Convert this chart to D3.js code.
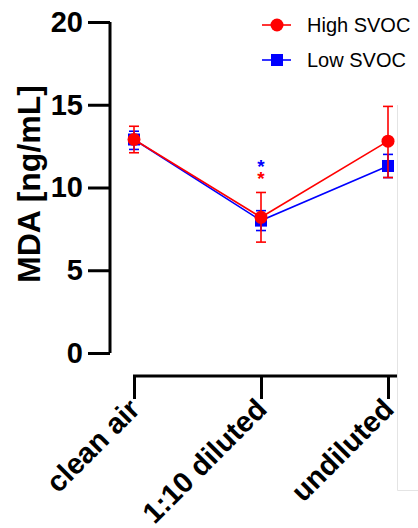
<!DOCTYPE html>
<html>
<head>
<meta charset="utf-8">
<script src="https://cdn.jsdelivr.net/npm/d3@7"></script>
<style>
  html, body { margin: 0; padding: 0; background: #fff; }
  svg { display: block; font-family: "Liberation Sans", Arial, sans-serif; }
</style>
</head>
<body>
<svg id="chart" width="418" height="528"></svg>
<script>
// Exposure groups along the x axis
const categories = ["clean air", "1:10 diluted", "undiluted"];

// MDA means with lower / upper error limits (ng/mL)
const highMean = [12.9, 8.2, 12.8];
const highLow  = [12.1, 6.7, 10.6];
const highHigh = [13.7, 9.7, 14.9];

const lowMean  = [12.9, 8.0, 11.3];
const lowLow   = [12.3, 7.4, 10.6];
const lowHigh  = [13.4, 8.6, 12.0];

const yTicks = [0, 5, 10, 15, 20];
const seriesNames = ["High SVOC", "Low SVOC"];
const seriesColors = ["#ff0000", "#0000ff"];
// Significance marks above the 1:10 diluted group (top to bottom)
const sigCategory = "1:10 diluted";
const sigSeries = [1, 0];

const svg = d3.select("#chart");
const FONT = "Liberation Sans, Arial, sans-serif";

const y = d3.scaleLinear().domain([0, 20]).range([353, 22]);
const x = d3.scalePoint().domain(categories).range([134, 388]);

// Y axis
const yAxis = svg.append("g").attr("transform", "translate(110,0)")
  .call(d3.axisLeft(y).tickValues(yTicks).tickSize(22).tickPadding(5));
yAxis.select(".domain").attr("stroke", "#000").attr("stroke-width", 3)
  .attr("d", `M0,${y(20)}V${y(0)}`);
yAxis.selectAll(".tick line").attr("stroke", "#000").attr("stroke-width", 3);
yAxis.selectAll(".tick text").attr("font-size", 29).attr("font-weight", "bold")
  .attr("fill", "#000").attr("font-family", FONT);

// Y axis title
svg.append("text")
  .attr("transform", "translate(40,184) rotate(-90)")
  .attr("text-anchor", "middle")
  .attr("font-size", 32).attr("font-weight", "bold")
  .attr("textLength", 198).attr("lengthAdjust", "spacingAndGlyphs")
  .text("MDA [ng/mL]");

// X axis
const xAxis = svg.append("g").attr("transform", "translate(0,376)")
  .call(d3.axisBottom(x).tickSize(23));
xAxis.select(".domain").attr("stroke", "#000").attr("stroke-width", 3)
  .attr("d", "M133,0H397");
xAxis.selectAll(".tick line").attr("stroke", "#000").attr("stroke-width", 3);
xAxis.selectAll(".tick text")
  .attr("font-size", 29).attr("font-weight", "bold").attr("fill", "#000")
  .attr("font-family", FONT)
  .attr("text-anchor", "end")
  .attr("x", 0).attr("y", 0).attr("dy", 0)
  .attr("transform", "translate(7,35) rotate(-45)");

// Series (low first so high sits on top)
const series = [
  { mean: lowMean, lo: lowLow, hi: lowHigh, color: seriesColors[1], shape: "square" },
  { mean: highMean, lo: highLow, hi: highHigh, color: seriesColors[0], shape: "circle" }
];

const line = d3.line().x((d, i) => x(categories[i])).y(d => y(d));

series.forEach(s => {
  const g = svg.append("g");
  g.append("path").datum(s.mean).attr("d", line)
    .attr("fill", "none").attr("stroke", s.color).attr("stroke-width", 1.6);
  categories.forEach((c, i) => {
    const cx = x(c);
    g.append("line").attr("x1", cx).attr("x2", cx)
      .attr("y1", y(s.lo[i])).attr("y2", y(s.hi[i]))
      .attr("stroke", s.color).attr("stroke-width", 1.6);
    [s.lo[i], s.hi[i]].forEach(v => {
      g.append("line").attr("x1", cx - 5).attr("x2", cx + 5)
        .attr("y1", y(v)).attr("y2", y(v))
        .attr("stroke", s.color).attr("stroke-width", 1.6);
    });
    if (s.shape === "circle") {
      g.append("circle").attr("cx", cx).attr("cy", y(s.mean[i])).attr("r", 6.5)
        .attr("fill", s.color);
    } else {
      g.append("rect").attr("x", cx - 6).attr("y", y(s.mean[i]) - 6)
        .attr("width", 12).attr("height", 12).attr("fill", s.color);
    }
  });
});

// Significance asterisks, stacked
const sig = svg.append("text")
  .attr("text-anchor", "middle")
  .attr("font-size", 19).attr("font-weight", "bold");
sigSeries.forEach((si, k) => {
  sig.append("tspan")
    .attr("x", x(sigCategory)).attr("y", 173 + k * 12)
    .attr("fill", seriesColors[si])
    .text("*");
});

// Legend
const legend = svg.append("g").attr("transform", "translate(262,0)");
seriesNames.forEach((name, i) => {
  const ly = 25 + i * 35;
  const col = seriesColors[i];
  legend.append("line").attr("x1", 0).attr("x2", 29).attr("y1", ly).attr("y2", ly)
    .attr("stroke", col).attr("stroke-width", 1.6);
  if (i === 0) {
    legend.append("circle").attr("cx", 15).attr("cy", ly).attr("r", 6.5).attr("fill", col);
  } else {
    legend.append("rect").attr("x", 9).attr("y", ly - 6).attr("width", 12).attr("height", 12)
      .attr("fill", col);
  }
  legend.append("text").attr("x", 45).attr("y", ly).attr("dy", "0.35em")
    .attr("font-size", 20).attr("fill", "#000").text(name);
});

// Faint panel edge on the right
svg.append("path").attr("d", "M397.5,105V490.5H418")
  .attr("fill", "none").attr("stroke", "#e4e4e4").attr("stroke-width", 1);
</script>
</body>
</html>
